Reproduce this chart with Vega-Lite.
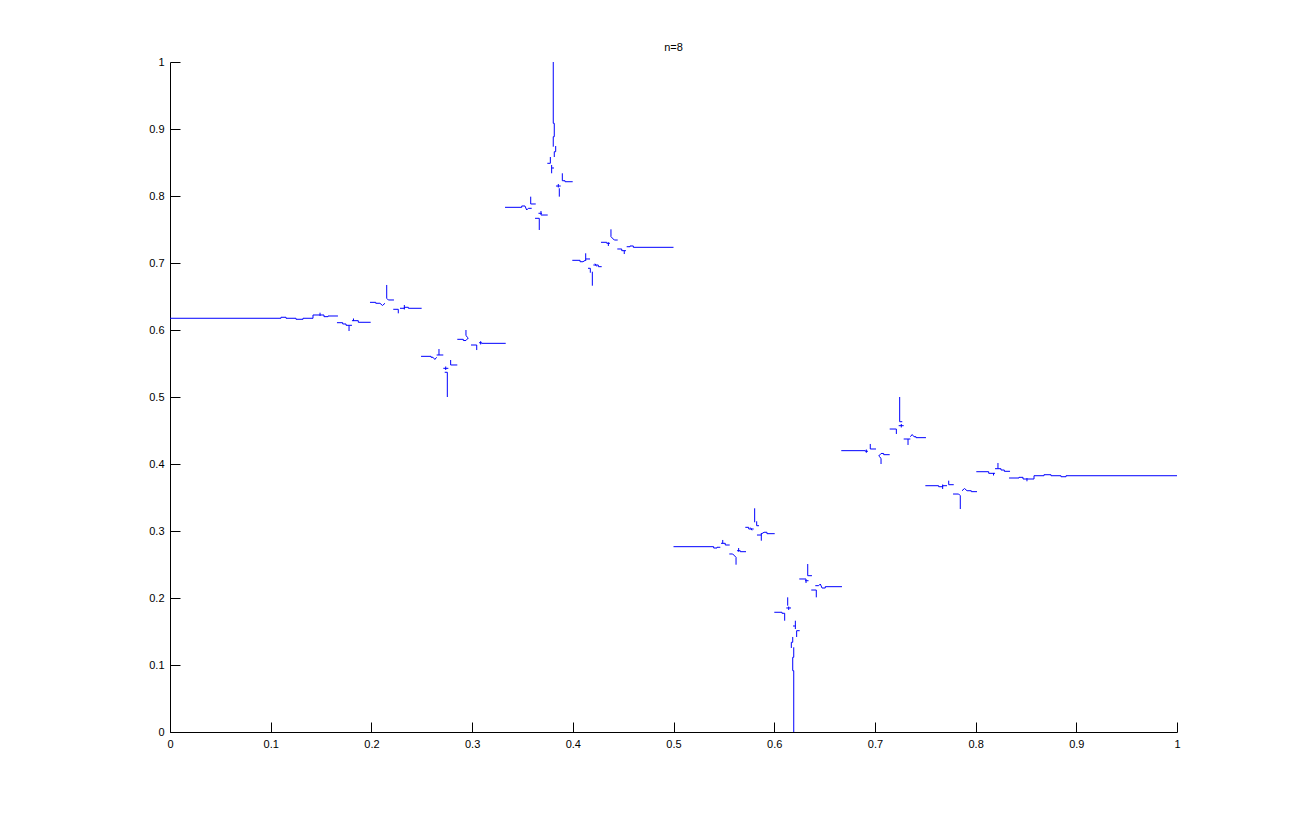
{
  "$schema": "https://vega.github.io/schema/vega-lite/v6.json",
  "width": 1007,
  "height": 670,
  "autosize": "none",
  "padding": {"left": 170, "top": 62, "right": 124, "bottom": 92},
  "background": "white",
  "title": {"text": "n=8", "fontSize": 11, "fontWeight": "normal", "font": "Liberation Sans", "color": "black", "offset": 3, "anchor": "middle"},
  "config": {
    "view": {"stroke": null},
    "font": "Liberation Sans",
    "axis": {"grid": false, "title": null, "domainColor": "black", "tickColor": "black", "labelColor": "black", "labelFontSize": 11, "labelFont": "Liberation Sans", "tickSize": -10, "labelPadding": 16, "format": "~g", "labelFlush": false, "labelOverlap": false, "domainWidth": 1, "tickWidth": 1}
  },
  "data": {"values": [
    {"g":1,"i":0,"x":0,"y":0.6175},{"g":1,"i":1,"x":0.1102,"y":0.6175},{"g":1,"i":2,"x":0.1102,"y":0.6190},{"g":1,"i":3,"x":0.1152,"y":0.6190},{"g":1,"i":4,"x":0.1152,"y":0.6175},{"g":1,"i":5,"x":0.1251,"y":0.6175},{"g":1,"i":6,"x":0.1251,"y":0.6160},{"g":1,"i":7,"x":0.1321,"y":0.6160},{"g":1,"i":8,"x":0.1321,"y":0.6175},{"g":1,"i":9,"x":0.1420,"y":0.6175},{"g":1,"i":10,"x":0.1420,"y":0.6224},{"g":1,"i":11,"x":0.1529,"y":0.6224},{"g":1,"i":12,"x":0.1529,"y":0.6199},{"g":1,"i":13,"x":0.1569,"y":0.6199},{"g":1,"i":14,"x":0.1569,"y":0.6209},{"g":1,"i":15,"x":0.1668,"y":0.6209},
    {"g":2,"i":0,"x":0.1490,"y":0.6258},{"g":2,"i":1,"x":0.1490,"y":0.6209},
    {"g":3,"i":0,"x":0.1658,"y":0.6109},{"g":3,"i":1,"x":0.1715,"y":0.6109},{"g":3,"i":2,"x":0.1715,"y":0.6090},{"g":3,"i":3,"x":0.1748,"y":0.6090},{"g":3,"i":4,"x":0.1748,"y":0.6070},{"g":3,"i":5,"x":0.1778,"y":0.6070},{"g":3,"i":6,"x":0.1778,"y":0.5985},
    {"g":4,"i":0,"x":0.1778,"y":0.6070},{"g":4,"i":1,"x":0.1807,"y":0.6070},
    {"g":5,"i":0,"x":0.1807,"y":0.6139},{"g":5,"i":1,"x":0.1870,"y":0.6139},{"g":5,"i":2,"x":0.1870,"y":0.6115},{"g":5,"i":3,"x":0.1993,"y":0.6115},
    {"g":6,"i":0,"x":0.1822,"y":0.6172},{"g":6,"i":1,"x":0.1822,"y":0.6134},
    {"g":7,"i":0,"x":0.1986,"y":0.6413},{"g":7,"i":1,"x":0.2043,"y":0.6413},{"g":7,"i":2,"x":0.2043,"y":0.6399},{"g":7,"i":3,"x":0.2085,"y":0.6399},{"g":7,"i":4,"x":0.2110,"y":0.6366},{"g":7,"i":5,"x":0.2135,"y":0.6399},
    {"g":8,"i":0,"x":0.2152,"y":0.6672},{"g":8,"i":1,"x":0.2152,"y":0.6473},{"g":8,"i":2,"x":0.2168,"y":0.6448},{"g":8,"i":3,"x":0.2224,"y":0.6448},
    {"g":9,"i":0,"x":0.2217,"y":0.6309},{"g":9,"i":1,"x":0.2267,"y":0.6309},{"g":9,"i":2,"x":0.2267,"y":0.6249},
    {"g":10,"i":0,"x":0.2284,"y":0.6324},{"g":10,"i":1,"x":0.2327,"y":0.6324},{"g":10,"i":2,"x":0.2327,"y":0.6339},{"g":10,"i":3,"x":0.2367,"y":0.6339},{"g":10,"i":4,"x":0.2367,"y":0.6324},{"g":10,"i":5,"x":0.2499,"y":0.6324},
    {"g":11,"i":0,"x":0.2327,"y":0.6373},{"g":11,"i":1,"x":0.2327,"y":0.6306},
    {"g":12,"i":0,"x":0.2853,"y":0.5861},{"g":12,"i":1,"x":0.2913,"y":0.5861},{"g":12,"i":2,"x":0.2913,"y":0.5843},{"g":12,"i":3,"x":0.2939,"y":0.5843},{"g":12,"i":4,"x":0.2962,"y":0.5881},{"g":12,"i":5,"x":0.2939,"y":0.5915},{"g":12,"i":6,"x":0.2939,"y":0.6000},
    {"g":13,"i":0,"x":0.2989,"y":0.5776},{"g":13,"i":1,"x":0.3046,"y":0.5776},{"g":13,"i":2,"x":0.3046,"y":0.5701},
    {"g":14,"i":0,"x":0.3069,"y":0.5810},{"g":14,"i":1,"x":0.3095,"y":0.5810},{"g":14,"i":2,"x":0.3095,"y":0.5801},{"g":14,"i":3,"x":0.3334,"y":0.5801},
    {"g":15,"i":0,"x":0.3085,"y":0.5833},{"g":15,"i":1,"x":0.3085,"y":0.5784},
    {"g":16,"i":0,"x":0.2493,"y":0.5607},{"g":16,"i":1,"x":0.2592,"y":0.5607},{"g":16,"i":2,"x":0.2592,"y":0.5593},{"g":16,"i":3,"x":0.2612,"y":0.5593},{"g":16,"i":4,"x":0.2630,"y":0.5560},{"g":16,"i":5,"x":0.2648,"y":0.5593},
    {"g":17,"i":0,"x":0.2671,"y":0.5716},{"g":17,"i":1,"x":0.2671,"y":0.5627},{"g":17,"i":2,"x":0.2714,"y":0.5627},
    {"g":18,"i":0,"x":0.2648,"y":0.5627},{"g":18,"i":1,"x":0.2671,"y":0.5627},
    {"g":19,"i":0,"x":0.2787,"y":0.5552},{"g":19,"i":1,"x":0.2787,"y":0.5478},{"g":19,"i":2,"x":0.2853,"y":0.5478},
    {"g":20,"i":0,"x":0.2714,"y":0.5428},{"g":20,"i":1,"x":0.2764,"y":0.5428},
    {"g":21,"i":0,"x":0.2738,"y":0.5455},{"g":21,"i":1,"x":0.2738,"y":0.5403},
    {"g":22,"i":0,"x":0.2728,"y":0.5369},{"g":22,"i":1,"x":0.2754,"y":0.5369},{"g":22,"i":2,"x":0.2754,"y":0.5000},
    {"g":23,"i":0,"x":0.3327,"y":0.7831},{"g":23,"i":1,"x":0.3493,"y":0.7831},{"g":23,"i":2,"x":0.3493,"y":0.7851},{"g":23,"i":3,"x":0.3525,"y":0.7851},{"g":23,"i":4,"x":0.3542,"y":0.7791},{"g":23,"i":5,"x":0.3558,"y":0.7816},{"g":23,"i":6,"x":0.3592,"y":0.7816},
    {"g":24,"i":0,"x":0.3582,"y":0.7990},{"g":24,"i":1,"x":0.3582,"y":0.7881},{"g":24,"i":2,"x":0.3632,"y":0.7881},
    {"g":25,"i":0,"x":0.3684,"y":0.7776},{"g":25,"i":1,"x":0.3684,"y":0.7716},{"g":25,"i":2,"x":0.3751,"y":0.7716},
    {"g":26,"i":0,"x":0.3659,"y":0.7742},{"g":26,"i":1,"x":0.3694,"y":0.7742},
    {"g":27,"i":0,"x":0.3625,"y":0.7667},{"g":27,"i":1,"x":0.3667,"y":0.7667},{"g":27,"i":2,"x":0.3667,"y":0.7493},
    {"g":28,"i":0,"x":0.3806,"y":1.0},{"g":28,"i":1,"x":0.3806,"y":0.9085},{"g":28,"i":2,"x":0.3816,"y":0.9085},{"g":28,"i":3,"x":0.3816,"y":0.8885},{"g":28,"i":4,"x":0.3806,"y":0.8885},{"g":28,"i":5,"x":0.3806,"y":0.8736},
    {"g":29,"i":0,"x":0.3830,"y":0.8746},{"g":29,"i":1,"x":0.3830,"y":0.8661},{"g":29,"i":2,"x":0.3816,"y":0.8661},{"g":29,"i":3,"x":0.3816,"y":0.8582},
    {"g":30,"i":0,"x":0.3777,"y":0.8582},{"g":30,"i":1,"x":0.3777,"y":0.8488},{"g":30,"i":2,"x":0.3747,"y":0.8488},
    {"g":31,"i":0,"x":0.3790,"y":0.8463},{"g":31,"i":1,"x":0.3790,"y":0.8339},
    {"g":32,"i":0,"x":0.3790,"y":0.8418},{"g":32,"i":1,"x":0.3813,"y":0.8418},
    {"g":33,"i":0,"x":0.3896,"y":0.8339},{"g":33,"i":1,"x":0.3896,"y":0.8228},{"g":33,"i":2,"x":0.3923,"y":0.8228},{"g":33,"i":3,"x":0.3923,"y":0.8213},{"g":33,"i":4,"x":0.3999,"y":0.8213},
    {"g":34,"i":0,"x":0.3833,"y":0.8149},{"g":34,"i":1,"x":0.3880,"y":0.8149},
    {"g":35,"i":0,"x":0.3856,"y":0.8179},{"g":35,"i":1,"x":0.3856,"y":0.8127},
    {"g":36,"i":0,"x":0.3866,"y":0.8115},{"g":36,"i":1,"x":0.3866,"y":0.7990},
    {"g":37,"i":0,"x":0.4379,"y":0.7503},{"g":37,"i":1,"x":0.4379,"y":0.7393},{"g":37,"i":2,"x":0.4412,"y":0.7343},{"g":37,"i":3,"x":0.4446,"y":0.7343},
    {"g":38,"i":0,"x":0.4280,"y":0.7309},{"g":38,"i":1,"x":0.4337,"y":0.7309},{"g":38,"i":2,"x":0.4337,"y":0.7294},{"g":38,"i":3,"x":0.4369,"y":0.7294},
    {"g":39,"i":0,"x":0.4353,"y":0.7309},{"g":39,"i":1,"x":0.4353,"y":0.7254},
    {"g":40,"i":0,"x":0.4442,"y":0.7209},{"g":40,"i":1,"x":0.4486,"y":0.7209},{"g":40,"i":2,"x":0.4486,"y":0.7184},{"g":40,"i":3,"x":0.4528,"y":0.7184},
    {"g":41,"i":0,"x":0.4511,"y":0.7184},{"g":41,"i":1,"x":0.4511,"y":0.7134},
    {"g":42,"i":0,"x":0.4535,"y":0.7243},{"g":42,"i":1,"x":0.4568,"y":0.7243},{"g":42,"i":2,"x":0.4568,"y":0.7254},{"g":42,"i":3,"x":0.4601,"y":0.7254},{"g":42,"i":4,"x":0.4601,"y":0.7234},{"g":42,"i":5,"x":0.5,"y":0.7234},
    {"g":43,"i":0,"x":0.3995,"y":0.7040},{"g":43,"i":1,"x":0.4072,"y":0.7040},{"g":43,"i":2,"x":0.4072,"y":0.7019},{"g":43,"i":3,"x":0.4101,"y":0.7019},{"g":43,"i":4,"x":0.4128,"y":0.7045},
    {"g":44,"i":0,"x":0.4128,"y":0.7145},{"g":44,"i":1,"x":0.4128,"y":0.7030},
    {"g":45,"i":0,"x":0.4128,"y":0.7060},{"g":45,"i":1,"x":0.4171,"y":0.7060},
    {"g":46,"i":0,"x":0.4204,"y":0.6970},{"g":46,"i":1,"x":0.4253,"y":0.6970},{"g":46,"i":2,"x":0.4253,"y":0.6945},{"g":46,"i":3,"x":0.4287,"y":0.6945},
    {"g":47,"i":0,"x":0.4220,"y":0.6990},{"g":47,"i":1,"x":0.4235,"y":0.6950},
    {"g":48,"i":0,"x":0.4151,"y":0.6921},{"g":48,"i":1,"x":0.4174,"y":0.6921},{"g":48,"i":2,"x":0.4174,"y":0.6855},
    {"g":49,"i":0,"x":0.4194,"y":0.6870},{"g":49,"i":1,"x":0.4194,"y":0.6661},

    {"g":101,"i":0,"x":1,"y":0.3825},{"g":101,"i":1,"x":0.8898,"y":0.3825},{"g":101,"i":2,"x":0.8898,"y":0.3810},{"g":101,"i":3,"x":0.8848,"y":0.3810},{"g":101,"i":4,"x":0.8848,"y":0.3825},{"g":101,"i":5,"x":0.8749,"y":0.3825},{"g":101,"i":6,"x":0.8749,"y":0.3840},{"g":101,"i":7,"x":0.8679,"y":0.3840},{"g":101,"i":8,"x":0.8679,"y":0.3825},{"g":101,"i":9,"x":0.8580,"y":0.3825},{"g":101,"i":10,"x":0.8580,"y":0.3776},{"g":101,"i":11,"x":0.8471,"y":0.3776},{"g":101,"i":12,"x":0.8471,"y":0.3801},{"g":101,"i":13,"x":0.8431,"y":0.3801},{"g":101,"i":14,"x":0.8431,"y":0.3791},{"g":101,"i":15,"x":0.8332,"y":0.3791},
    {"g":102,"i":0,"x":0.8510,"y":0.3742},{"g":102,"i":1,"x":0.8510,"y":0.3791},
    {"g":103,"i":0,"x":0.8342,"y":0.3891},{"g":103,"i":1,"x":0.8285,"y":0.3891},{"g":103,"i":2,"x":0.8285,"y":0.3910},{"g":103,"i":3,"x":0.8252,"y":0.3910},{"g":103,"i":4,"x":0.8252,"y":0.3930},{"g":103,"i":5,"x":0.8222,"y":0.3930},{"g":103,"i":6,"x":0.8222,"y":0.4015},
    {"g":104,"i":0,"x":0.8222,"y":0.3930},{"g":104,"i":1,"x":0.8193,"y":0.3930},
    {"g":105,"i":0,"x":0.8193,"y":0.3861},{"g":105,"i":1,"x":0.8130,"y":0.3861},{"g":105,"i":2,"x":0.8130,"y":0.3885},{"g":105,"i":3,"x":0.8007,"y":0.3885},
    {"g":106,"i":0,"x":0.8178,"y":0.3828},{"g":106,"i":1,"x":0.8178,"y":0.3866},
    {"g":107,"i":0,"x":0.8014,"y":0.3587},{"g":107,"i":1,"x":0.7957,"y":0.3587},{"g":107,"i":2,"x":0.7957,"y":0.3601},{"g":107,"i":3,"x":0.7915,"y":0.3601},{"g":107,"i":4,"x":0.7890,"y":0.3634},{"g":107,"i":5,"x":0.7865,"y":0.3601},
    {"g":108,"i":0,"x":0.7848,"y":0.3328},{"g":108,"i":1,"x":0.7848,"y":0.3527},{"g":108,"i":2,"x":0.7832,"y":0.3552},{"g":108,"i":3,"x":0.7776,"y":0.3552},
    {"g":109,"i":0,"x":0.7783,"y":0.3691},{"g":109,"i":1,"x":0.7733,"y":0.3691},{"g":109,"i":2,"x":0.7733,"y":0.3751},
    {"g":110,"i":0,"x":0.7716,"y":0.3676},{"g":110,"i":1,"x":0.7673,"y":0.3676},{"g":110,"i":2,"x":0.7673,"y":0.3661},{"g":110,"i":3,"x":0.7633,"y":0.3661},{"g":110,"i":4,"x":0.7633,"y":0.3676},{"g":110,"i":5,"x":0.7501,"y":0.3676},
    {"g":111,"i":0,"x":0.7673,"y":0.3627},{"g":111,"i":1,"x":0.7673,"y":0.3694},
    {"g":112,"i":0,"x":0.7147,"y":0.4139},{"g":112,"i":1,"x":0.7087,"y":0.4139},{"g":112,"i":2,"x":0.7087,"y":0.4157},{"g":112,"i":3,"x":0.7061,"y":0.4157},{"g":112,"i":4,"x":0.7038,"y":0.4119},{"g":112,"i":5,"x":0.7061,"y":0.4085},{"g":112,"i":6,"x":0.7061,"y":0.4000},
    {"g":113,"i":0,"x":0.7011,"y":0.4224},{"g":113,"i":1,"x":0.6954,"y":0.4224},{"g":113,"i":2,"x":0.6954,"y":0.4299},
    {"g":114,"i":0,"x":0.6931,"y":0.4190},{"g":114,"i":1,"x":0.6905,"y":0.4190},{"g":114,"i":2,"x":0.6905,"y":0.4199},{"g":114,"i":3,"x":0.6666,"y":0.4199},
    {"g":115,"i":0,"x":0.6915,"y":0.4167},{"g":115,"i":1,"x":0.6915,"y":0.4216},
    {"g":116,"i":0,"x":0.7507,"y":0.4393},{"g":116,"i":1,"x":0.7408,"y":0.4393},{"g":116,"i":2,"x":0.7408,"y":0.4407},{"g":116,"i":3,"x":0.7388,"y":0.4407},{"g":116,"i":4,"x":0.7370,"y":0.4440},{"g":116,"i":5,"x":0.7352,"y":0.4407},
    {"g":117,"i":0,"x":0.7329,"y":0.4284},{"g":117,"i":1,"x":0.7329,"y":0.4373},{"g":117,"i":2,"x":0.7286,"y":0.4373},
    {"g":118,"i":0,"x":0.7352,"y":0.4373},{"g":118,"i":1,"x":0.7329,"y":0.4373},
    {"g":119,"i":0,"x":0.7213,"y":0.4448},{"g":119,"i":1,"x":0.7213,"y":0.4522},{"g":119,"i":2,"x":0.7147,"y":0.4522},
    {"g":120,"i":0,"x":0.7286,"y":0.4572},{"g":120,"i":1,"x":0.7236,"y":0.4572},
    {"g":121,"i":0,"x":0.7262,"y":0.4545},{"g":121,"i":1,"x":0.7262,"y":0.4597},
    {"g":122,"i":0,"x":0.7272,"y":0.4631},{"g":122,"i":1,"x":0.7246,"y":0.4631},{"g":122,"i":2,"x":0.7246,"y":0.5000},
    {"g":123,"i":0,"x":0.6673,"y":0.2169},{"g":123,"i":1,"x":0.6507,"y":0.2169},{"g":123,"i":2,"x":0.6507,"y":0.2149},{"g":123,"i":3,"x":0.6475,"y":0.2149},{"g":123,"i":4,"x":0.6458,"y":0.2209},{"g":123,"i":5,"x":0.6442,"y":0.2184},{"g":123,"i":6,"x":0.6408,"y":0.2184},
    {"g":124,"i":0,"x":0.6418,"y":0.2010},{"g":124,"i":1,"x":0.6418,"y":0.2119},{"g":124,"i":2,"x":0.6368,"y":0.2119},
    {"g":125,"i":0,"x":0.6316,"y":0.2224},{"g":125,"i":1,"x":0.6316,"y":0.2284},{"g":125,"i":2,"x":0.6249,"y":0.2284},
    {"g":126,"i":0,"x":0.6341,"y":0.2258},{"g":126,"i":1,"x":0.6306,"y":0.2258},
    {"g":127,"i":0,"x":0.6375,"y":0.2333},{"g":127,"i":1,"x":0.6333,"y":0.2333},{"g":127,"i":2,"x":0.6333,"y":0.2507},
    {"g":128,"i":0,"x":0.6194,"y":0},{"g":128,"i":1,"x":0.6194,"y":0.0915},{"g":128,"i":2,"x":0.6184,"y":0.0915},{"g":128,"i":3,"x":0.6184,"y":0.1115},{"g":128,"i":4,"x":0.6194,"y":0.1115},{"g":128,"i":5,"x":0.6194,"y":0.1264},
    {"g":129,"i":0,"x":0.6170,"y":0.1254},{"g":129,"i":1,"x":0.6170,"y":0.1339},{"g":129,"i":2,"x":0.6184,"y":0.1339},{"g":129,"i":3,"x":0.6184,"y":0.1418},
    {"g":130,"i":0,"x":0.6223,"y":0.1418},{"g":130,"i":1,"x":0.6223,"y":0.1512},{"g":130,"i":2,"x":0.6253,"y":0.1512},
    {"g":131,"i":0,"x":0.6210,"y":0.1537},{"g":131,"i":1,"x":0.6210,"y":0.1661},
    {"g":132,"i":0,"x":0.6210,"y":0.1582},{"g":132,"i":1,"x":0.6187,"y":0.1582},
    {"g":133,"i":0,"x":0.6104,"y":0.1661},{"g":133,"i":1,"x":0.6104,"y":0.1772},{"g":133,"i":2,"x":0.6077,"y":0.1772},{"g":133,"i":3,"x":0.6077,"y":0.1787},{"g":133,"i":4,"x":0.6001,"y":0.1787},
    {"g":134,"i":0,"x":0.6167,"y":0.1851},{"g":134,"i":1,"x":0.6120,"y":0.1851},
    {"g":135,"i":0,"x":0.6144,"y":0.1821},{"g":135,"i":1,"x":0.6144,"y":0.1873},
    {"g":136,"i":0,"x":0.6134,"y":0.1885},{"g":136,"i":1,"x":0.6134,"y":0.2010},
    {"g":137,"i":0,"x":0.5621,"y":0.2497},{"g":137,"i":1,"x":0.5621,"y":0.2607},{"g":137,"i":2,"x":0.5588,"y":0.2657},{"g":137,"i":3,"x":0.5554,"y":0.2657},
    {"g":138,"i":0,"x":0.5720,"y":0.2691},{"g":138,"i":1,"x":0.5663,"y":0.2691},{"g":138,"i":2,"x":0.5663,"y":0.2706},{"g":138,"i":3,"x":0.5631,"y":0.2706},
    {"g":139,"i":0,"x":0.5647,"y":0.2691},{"g":139,"i":1,"x":0.5647,"y":0.2746},
    {"g":140,"i":0,"x":0.5558,"y":0.2791},{"g":140,"i":1,"x":0.5514,"y":0.2791},{"g":140,"i":2,"x":0.5514,"y":0.2816},{"g":140,"i":3,"x":0.5472,"y":0.2816},
    {"g":141,"i":0,"x":0.5489,"y":0.2816},{"g":141,"i":1,"x":0.5489,"y":0.2866},
    {"g":142,"i":0,"x":0.5465,"y":0.2757},{"g":142,"i":1,"x":0.5432,"y":0.2757},{"g":142,"i":2,"x":0.5432,"y":0.2746},{"g":142,"i":3,"x":0.5399,"y":0.2746},{"g":142,"i":4,"x":0.5399,"y":0.2766},{"g":142,"i":5,"x":0.5,"y":0.2766},
    {"g":143,"i":0,"x":0.6005,"y":0.2960},{"g":143,"i":1,"x":0.5928,"y":0.2960},{"g":143,"i":2,"x":0.5928,"y":0.2981},{"g":143,"i":3,"x":0.5899,"y":0.2981},{"g":143,"i":4,"x":0.5872,"y":0.2955},
    {"g":144,"i":0,"x":0.5872,"y":0.2855},{"g":144,"i":1,"x":0.5872,"y":0.2970},
    {"g":145,"i":0,"x":0.5872,"y":0.2940},{"g":145,"i":1,"x":0.5829,"y":0.2940},
    {"g":146,"i":0,"x":0.5796,"y":0.3030},{"g":146,"i":1,"x":0.5747,"y":0.3030},{"g":146,"i":2,"x":0.5747,"y":0.3055},{"g":146,"i":3,"x":0.5713,"y":0.3055},
    {"g":147,"i":0,"x":0.5780,"y":0.3010},{"g":147,"i":1,"x":0.5765,"y":0.3050},
    {"g":148,"i":0,"x":0.5849,"y":0.3079},{"g":148,"i":1,"x":0.5826,"y":0.3079},{"g":148,"i":2,"x":0.5826,"y":0.3145},
    {"g":149,"i":0,"x":0.5806,"y":0.3130},{"g":149,"i":1,"x":0.5806,"y":0.3339}
  ]},
  "mark": {"type": "line", "color": "#0000ff", "strokeWidth": 1, "clip": true},
  "encoding": {
    "x": {"field": "x", "type": "quantitative", "scale": {"domain": [0, 1], "nice": false, "zero": false}, "axis": {"values": [0, 0.1, 0.2, 0.3, 0.4, 0.5, 0.6, 0.7, 0.8, 0.9, 1]}},
    "y": {"field": "y", "type": "quantitative", "scale": {"domain": [0, 1], "nice": false, "zero": false}, "axis": {"values": [0, 0.1, 0.2, 0.3, 0.4, 0.5, 0.6, 0.7, 0.8, 0.9, 1]}},
    "detail": {"field": "g", "type": "nominal"},
    "order": {"field": "i", "type": "quantitative"}
  }
}
